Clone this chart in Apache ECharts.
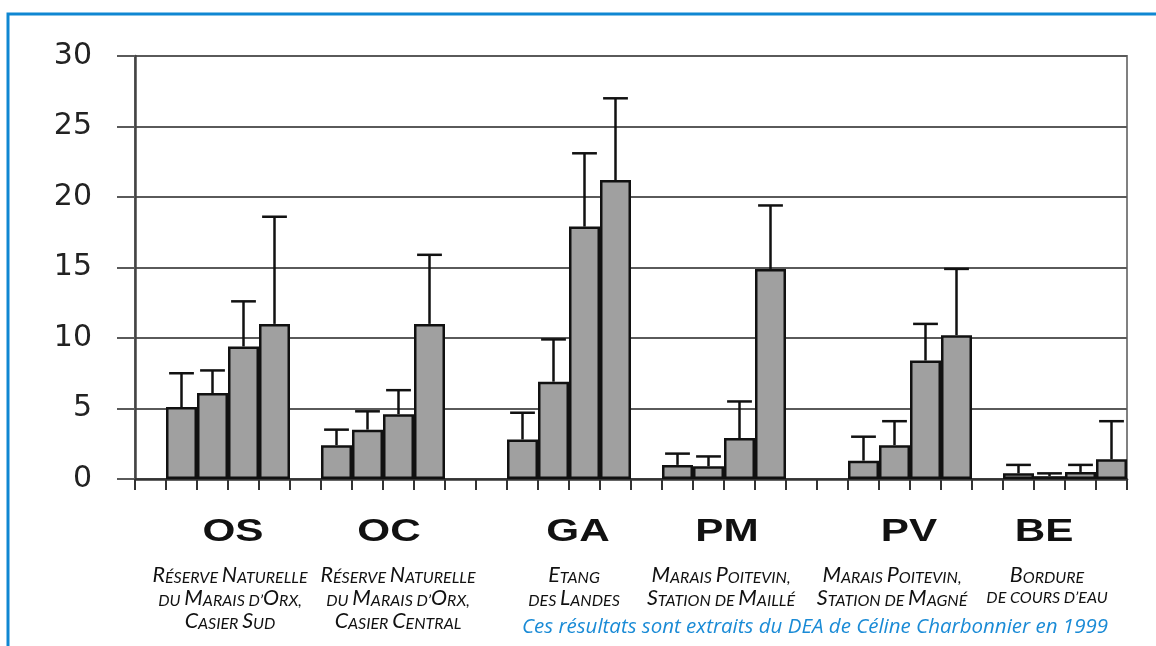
<!DOCTYPE html>
<html>
<head>
    <meta charset="utf-8">
    <title>ECharts</title>
    <script src="https://cdn.jsdelivr.net/npm/echarts@6/dist/echarts.min.js"></script>
</head>
<body style="margin:0;background:#fff;">
    <div id="main" style="width:1156px;height:646px;"></div>
    <script type="text/javascript">
        // codes des stations
        var groupCodes = ['OS', 'OC', 'GA', 'PM', 'PV', 'BE'];
        var groupNames = [
            ['Réserve Naturelle', 'du Marais d\u2019Orx,', 'Casier Sud'],
            ['Réserve Naturelle', 'du Marais d\u2019Orx,', 'Casier Central'],
            ['Etang', 'des Landes'],
            ['Marais Poitevin,', 'Station de Maillé'],
            ['Marais Poitevin,', 'Station de Magné'],
            ['Bordure', 'de cours d\u2019eau']
        ];

        // hauteur des barres (4 barres par station)
        var valOS = [5.1, 6.1, 9.4, 11.0];
        var valOC = [2.4, 3.5, 4.6, 11.0];
        var valGA = [2.8, 6.9, 17.9, 21.2];
        var valPM = [1.0, 0.9, 2.9, 14.9];
        var valPV = [1.3, 2.4, 8.4, 10.2];
        var valBE = [0.4, 0.2, 0.5, 1.4];

        // extrémité haute des barres d'erreur
        var hautOS = [7.5, 7.7, 12.6, 18.6];
        var hautOC = [3.5, 4.8, 6.3, 15.9];
        var hautGA = [4.7, 9.9, 23.1, 27.0];
        var hautPM = [1.8, 1.6, 5.5, 19.4];
        var hautPV = [3.0, 4.1, 11.0, 14.9];
        var hautBE = [1.0, 0.4, 1.0, 4.1];

        // cases vides avant chaque station sur l'axe
        var gapsBefore = [1, 1, 2, 1, 2, 1];
        // position des textes sous l'axe
        var codeX = [233, 389, 578, 727, 909, 1044];
        var nameX = [230, 398, 574, 721, 892, 1047];

        var values = [valOS, valOC, valGA, valPM, valPV, valBE];
        var uppers = [hautOS, hautOC, hautGA, hautPM, hautPV, hautBE];

        var cats = [], barData = [], errData = [];
        groupCodes.forEach(function (code, g) {
            for (var k = 0; k < gapsBefore[g]; k++) {
                cats.push('vide' + cats.length);
                barData.push('-');
            }
            values[g].forEach(function (v, i) {
                errData.push([cats.length, v, uppers[g][i]]);
                cats.push(code + (i + 1));
                barData.push(v);
            });
        });

        // petites capitales : majuscules grandes, minuscules en petites majuscules
        function smallCaps(str) {
            var out = '', cur = null, buf = '';
            for (var i = 0; i < str.length; i++) {
                var c = str[i];
                var isBig = c !== c.toLowerCase();
                var st = (c === ' ') ? (cur || 's') : (isBig ? 'b' : 's');
                if (st !== cur && buf) {
                    out += '{' + cur + '|' + buf + '}';
                    buf = '';
                }
                cur = st;
                buf += c.toUpperCase();
            }
            if (buf) out += '{' + cur + '|' + buf + '}';
            return out;
        }

        var graphics = [
            {
                type: 'polyline',
                shape: { points: [[8, 646], [8, 14], [1156, 14]] },
                style: { stroke: '#0f87d2', lineWidth: 3, fill: null }
            },
            {
                type: 'text',
                x: 1108, y: 627,
                style: {
                    text: 'Ces résultats sont extraits du DEA de Céline Charbonnier en 1999',
                    align: 'right', verticalAlign: 'middle',
                    fontFamily: 'Open Sans', fontStyle: 'italic', fontSize: 20.5,
                    fill: '#1a8bd6'
                }
            }
        ];
        groupCodes.forEach(function (code, g) {
            graphics.push({
                type: 'text',
                x: codeX[g], y: 532, scaleX: 1.32,
                style: {
                    text: code, x: 0, y: 0,
                    align: 'center', verticalAlign: 'middle',
                    fontFamily: 'Liberation Sans', fontWeight: 'bold', fontSize: 32,
                    fill: '#111'
                }
            });
            groupNames[g].forEach(function (line, l) {
                graphics.push({
                    type: 'text',
                    x: nameX[g], y: 575 + l * 23,
                    style: {
                        text: smallCaps(line),
                        align: 'center', verticalAlign: 'middle',
                        fill: '#111',
                        rich: {
                            b: { fontFamily: 'Lato', fontStyle: 'italic', fontSize: 21.5, fill: '#111', verticalAlign: 'bottom' },
                            s: { fontFamily: 'Lato', fontStyle: 'italic', fontSize: 16, fill: '#111', verticalAlign: 'bottom' }
                        }
                    }
                });
            });
        });

        var myChart = echarts.init(document.getElementById('main'));

        myChart.setOption({
            animation: false,
            backgroundColor: '#fff',
            grid: {
                left: 135, right: 29, top: 56, bottom: 167,
                show: true, borderColor: '#808080', borderWidth: 2,
                outerBoundsMode: 'none'
            },
            xAxis: {
                type: 'category',
                data: cats,
                boundaryGap: true,
                axisLine: { lineStyle: { color: '#333', width: 2.5 } },
                axisTick: { show: true, interval: 0, length: 11, lineStyle: { color: '#333', width: 2 } },
                axisLabel: { show: false },
                splitLine: { show: false }
            },
            yAxis: {
                type: 'value',
                min: 0, max: 30, interval: 5,
                axisLine: { show: true, lineStyle: { color: '#444', width: 2.5 } },
                axisTick: { show: true, length: 18, lineStyle: { color: '#5a5a5a', width: 2 } },
                axisLabel: {
                    fontFamily: 'DejaVu Sans', fontSize: 30, color: '#222',
                    margin: 43, padding: [0, 0, 9, 0]
                },
                splitLine: { lineStyle: { color: '#5a5a5a', width: 2 } }
            },
            graphic: graphics,
            series: [
                {
                    type: 'bar',
                    data: barData,
                    barCategoryGap: '0%',
                    itemStyle: { color: '#a0a0a0', borderColor: '#111', borderWidth: 2.5 }
                },
                {
                    type: 'custom',
                    data: errData,
                    z: 5,
                    renderItem: function (params, api) {
                        var base = api.coord([api.value(0), api.value(1)]);
                        var top = api.coord([api.value(0), api.value(2)]);
                        var half = api.size([1, 0])[0] * 0.4;
                        return {
                            type: 'group',
                            children: [
                                { type: 'line', shape: { x1: base[0], y1: base[1], x2: top[0], y2: top[1] }, style: { stroke: '#111', lineWidth: 2.5 } },
                                { type: 'line', shape: { x1: top[0] - half, y1: top[1], x2: top[0] + half, y2: top[1] }, style: { stroke: '#111', lineWidth: 2.5 } }
                            ]
                        };
                    }
                }
            ]
        });
    </script>
</body>
</html>
